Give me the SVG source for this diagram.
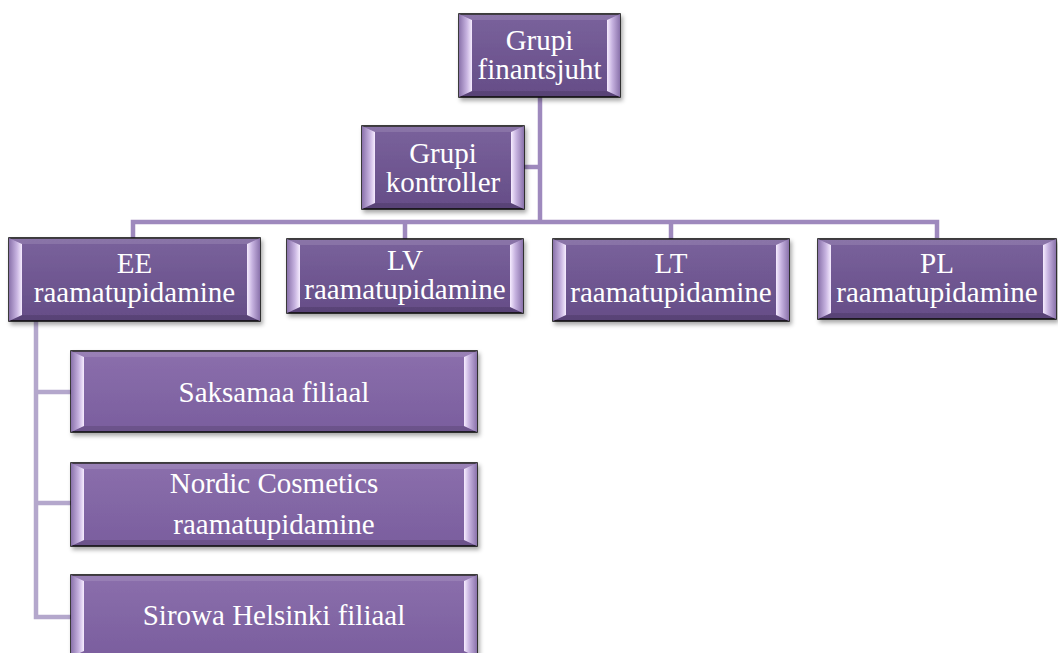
<svg xmlns="http://www.w3.org/2000/svg" width="1058" height="653" viewBox="0 0 1058 653">
<defs>
<linearGradient id="gTop" x1="0" y1="0" x2="0" y2="1"><stop offset="0" stop-color="#7a629c"/><stop offset="1" stop-color="#654d87"/></linearGradient>
<linearGradient id="gChild" x1="0" y1="0" x2="0" y2="1"><stop offset="0" stop-color="#8b6fac"/><stop offset="1" stop-color="#7a5e9e"/></linearGradient>
<linearGradient id="gL" x1="0" y1="0" x2="1" y2="0"><stop offset="0" stop-color="#8a72ab"/><stop offset="0.6" stop-color="#c7b3e0"/><stop offset="1" stop-color="#f6ecff"/></linearGradient>
<linearGradient id="gR" x1="1" y1="0" x2="0" y2="0"><stop offset="0" stop-color="#8a72ab"/><stop offset="0.6" stop-color="#c7b3e0"/><stop offset="1" stop-color="#f6ecff"/></linearGradient>
<filter id="sh" x="-5%" y="-10%" width="115%" height="130%"><feDropShadow dx="2" dy="3" stdDeviation="2" flood-color="#000" flood-opacity="0.35"/></filter>
</defs>
<style>
.ot{stroke:#111;stroke-width:1.6;filter:url(#sh)}
.top{fill:url(#gTop)}
.child{fill:url(#gChild)}
.bl{fill:url(#gL)}
.br{fill:url(#gR)}
.bt{fill:#ffffff;fill-opacity:0.12}
.bb{fill:#000000;fill-opacity:0.12}
.t{font-family:"Liberation Serif","Times New Roman",serif;font-size:29px;fill:#ffffff;text-anchor:middle}
.c1{fill:none;stroke:#9e89bd;stroke-width:4.5}
.c2{fill:none;stroke:#b4a7cc;stroke-width:4.5}
</style>
<rect width="1058" height="653" fill="#ffffff"/>
<g id="connectors">
<path class="c1" d="M540 97 V222"/>
<path class="c1" d="M524 167 H540"/>
<path class="c1" d="M133 238 V222 H937 V238"/>
<path class="c1" d="M405 222 V239"/>
<path class="c1" d="M671 222 V239"/>
<path class="c2" d="M36 321 V617 H71"/>
<path class="c2" d="M36 392 H71"/>
<path class="c2" d="M36 503 H71"/>
</g>
<g id="n-finantsjuht">
<rect class="ot top" x="459" y="14" width="161" height="83"/>
<polygon class="bt" points="459,14 620,14 607,20 472,20"/>
<polygon class="bb" points="459,97 620,97 607,91 472,91"/>
<polygon class="bl" points="459,14 472,20 472,91 459,97"/>
<polygon class="br" points="620,14 607,20 607,91 620,97"/>
<text class="t" x="539.5" y="50">Grupi</text>
<text class="t" x="539.5" y="79">finantsjuht</text>
</g>
<g id="n-kontroller">
<rect class="ot top" x="362" y="126" width="162" height="83"/>
<polygon class="bt" points="362,126 524,126 511,132 375,132"/>
<polygon class="bb" points="362,209 524,209 511,203 375,203"/>
<polygon class="bl" points="362,126 375,132 375,203 362,209"/>
<polygon class="br" points="524,126 511,132 511,203 524,209"/>
<text class="t" x="443" y="163">Grupi</text>
<text class="t" x="443" y="192">kontroller</text>
</g>
<g id="n-ee">
<rect class="ot top" x="9" y="238" width="251" height="83"/>
<polygon class="bt" points="9,238 260,238 247,244 22,244"/>
<polygon class="bb" points="9,321 260,321 247,315 22,315"/>
<polygon class="bl" points="9,238 22,244 22,315 9,321"/>
<polygon class="br" points="260,238 247,244 247,315 260,321"/>
<text class="t" x="134.5" y="273">EE</text>
<text class="t" x="134.5" y="302">raamatupidamine</text>
</g>
<g id="n-lv">
<rect class="ot top" x="287" y="239" width="236" height="74"/>
<polygon class="bt" points="287,239 523,239 510,245 300,245"/>
<polygon class="bb" points="287,313 523,313 510,307 300,307"/>
<polygon class="bl" points="287,239 300,245 300,307 287,313"/>
<polygon class="br" points="523,239 510,245 510,307 523,313"/>
<text class="t" x="405" y="270">LV</text>
<text class="t" x="405" y="299">raamatupidamine</text>
</g>
<g id="n-lt">
<rect class="ot top" x="553" y="239" width="236" height="82"/>
<polygon class="bt" points="553,239 789,239 776,245 566,245"/>
<polygon class="bb" points="553,321 789,321 776,315 566,315"/>
<polygon class="bl" points="553,239 566,245 566,315 553,321"/>
<polygon class="br" points="789,239 776,245 776,315 789,321"/>
<text class="t" x="671" y="273">LT</text>
<text class="t" x="671" y="302">raamatupidamine</text>
</g>
<g id="n-pl">
<rect class="ot top" x="818" y="239" width="238" height="80"/>
<polygon class="bt" points="818,239 1056,239 1043,245 831,245"/>
<polygon class="bb" points="818,319 1056,319 1043,313 831,313"/>
<polygon class="bl" points="818,239 831,245 831,313 818,319"/>
<polygon class="br" points="1056,239 1043,245 1043,313 1056,319"/>
<text class="t" x="937" y="273">PL</text>
<text class="t" x="937" y="302">raamatupidamine</text>
</g>
<g id="n-saksamaa">
<rect class="ot child" x="71" y="351" width="406" height="81"/>
<polygon class="bt" points="71,351 477,351 464,357 84,357"/>
<polygon class="bb" points="71,432 477,432 464,426 84,426"/>
<polygon class="bl" points="71,351 84,357 84,426 71,432"/>
<polygon class="br" points="477,351 464,357 464,426 477,432"/>
<text class="t" x="274" y="402">Saksamaa filiaal</text>
</g>
<g id="n-nordic">
<rect class="ot child" x="71" y="463" width="406" height="83"/>
<polygon class="bt" points="71,463 477,463 464,469 84,469"/>
<polygon class="bb" points="71,546 477,546 464,540 84,540"/>
<polygon class="bl" points="71,463 84,469 84,540 71,546"/>
<polygon class="br" points="477,463 464,469 464,540 477,546"/>
<text class="t" x="274" y="493">Nordic Cosmetics</text>
<text class="t" x="274" y="534">raamatupidamine</text>
</g>
<g id="n-sirowa">
<rect class="ot child" x="71" y="575" width="406" height="82"/>
<polygon class="bt" points="71,575 477,575 464,581 84,581"/>
<polygon class="bl" points="71,575 84,581 84,651 71,657"/>
<polygon class="br" points="477,575 464,581 464,651 477,657"/>
<text class="t" x="274" y="625">Sirowa Helsinki filiaal</text>
</g>
</svg>
